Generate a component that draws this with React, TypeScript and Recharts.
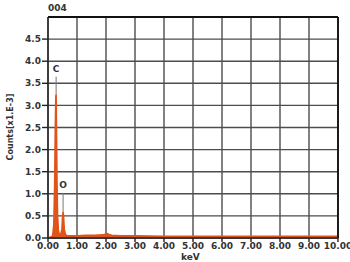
import {
  ComposedChart,
  Area,
  XAxis,
  YAxis,
  CartesianGrid,
  ReferenceLine,
} from "recharts";

// EDS spectrum, energy (keV) vs counts (x1.E-3)
const energy = [
  0.0, 0.1, 0.16, 0.2, 0.23, 0.25, 0.27, 0.28, 0.29, 0.31, 0.33, 0.36, 0.4,
  0.44, 0.48, 0.5, 0.52, 0.54, 0.56, 0.6, 0.66, 0.8, 1.0, 1.3, 1.6, 1.9, 2.0,
  2.05, 2.1, 2.2, 2.5, 3.0, 4.0, 5.0, 6.0, 7.0, 8.0, 9.0, 10.0,
];
const counts = [
  0.0, 0.02, 0.05, 0.3, 1.2, 2.4, 3.2, 3.25, 2.6, 1.3, 0.5, 0.15, 0.08, 0.08,
  0.2, 0.45, 0.6, 0.45, 0.2, 0.08, 0.05, 0.05, 0.05, 0.06, 0.06, 0.07, 0.09,
  0.1, 0.08, 0.06, 0.05, 0.05, 0.04, 0.04, 0.04, 0.04, 0.04, 0.04, 0.04,
];

const xTicks = [0, 1, 2, 3, 4, 5, 6, 7, 8, 9, 10];
const yTicks = [0, 0.5, 1, 1.5, 2, 2.5, 3, 3.5, 4, 4.5];
const gridY = [0, 0.5, 1, 1.5, 2, 2.5, 3, 3.5, 4, 4.5, 5];

const peakNames = ["C", "O"];
const peakEnergy = [0.28, 0.52];
const peakTop = [3.25, 0.6];
const markerTop = [3.65, 1.02];

const data = energy.map((e, i) => ({ e, c: counts[i] }));

const ORANGE = "#e0541a";
const GRID = "#4d4d4d";
const tickStyle = {
  fill: "#333",
  fontSize: 9,
  fontWeight: 700,
  fontFamily: "DejaVu Sans",
};

export default function App() {
  return (
    <div
      style={{
        position: "absolute",
        left: 0,
        top: 0,
        width: 350,
        height: 262,
        background: "#fff",
        fontFamily: "DejaVu Sans",
        color: "#333",
      }}
    >
      <ComposedChart
        width={350}
        height={262}
        data={data}
        margin={{ top: 17, right: 12, bottom: 0, left: 0 }}
      >
        <CartesianGrid
          stroke={GRID}
          strokeWidth={1.4}
          horizontalValues={gridY}
          verticalValues={xTicks}
        />
        <XAxis
          type="number"
          dataKey="e"
          domain={[0, 10]}
          ticks={xTicks}
          tickFormatter={(v: number) => v.toFixed(2)}
          height={24}
          tick={tickStyle}
          tickSize={4}
          tickMargin={1}
          interval={0}
          stroke="#222"
          strokeWidth={1.4}
        />
        <YAxis
          type="number"
          domain={[0, 5]}
          ticks={yTicks}
          tickFormatter={(v: number) => v.toFixed(1)}
          width={48}
          tick={tickStyle}
          tickSize={6}
          tickMargin={1}
          interval={0}
          stroke="#222"
          strokeWidth={1.4}
        />
        <ReferenceLine y={5} stroke="#111" strokeWidth={1.8} />
        <ReferenceLine x={10} stroke="#111" strokeWidth={1.8} />
        <Area
          type="linear"
          dataKey="c"
          stroke={ORANGE}
          strokeWidth={1.6}
          fill={ORANGE}
          fillOpacity={1}
          isAnimationActive={false}
        />
        {peakNames.map((name, i) => (
          <ReferenceLine
            key={name}
            segment={[
              { x: peakEnergy[i], y: peakTop[i] },
              { x: peakEnergy[i], y: markerTop[i] },
            ]}
            stroke="#777"
            strokeWidth={1}
            label={{
              value: name,
              position: "top",
              fill: "#333",
              fontSize: 9,
              fontWeight: 700,
            }}
          />
        ))}
      </ComposedChart>
      <div
        style={{
          position: "absolute",
          left: 48,
          top: 3,
          fontSize: 9,
          fontWeight: 700,
        }}
      >
        004
      </div>
      <div
        style={{
          position: "absolute",
          left: 181,
          top: 252,
          width: 16,
          textAlign: "center",
          fontSize: 9,
          fontWeight: 700,
          lineHeight: "11px",
        }}
      >
        keV
      </div>
      <div
        style={{
          position: "absolute",
          left: 10,
          top: 127,
          transform: "translate(-50%, -50%) rotate(-90deg)",
          whiteSpace: "nowrap",
          fontSize: 8,
          fontWeight: 700,
        }}
      >
        Counts[x1.E-3]
      </div>
    </div>
  );
}
